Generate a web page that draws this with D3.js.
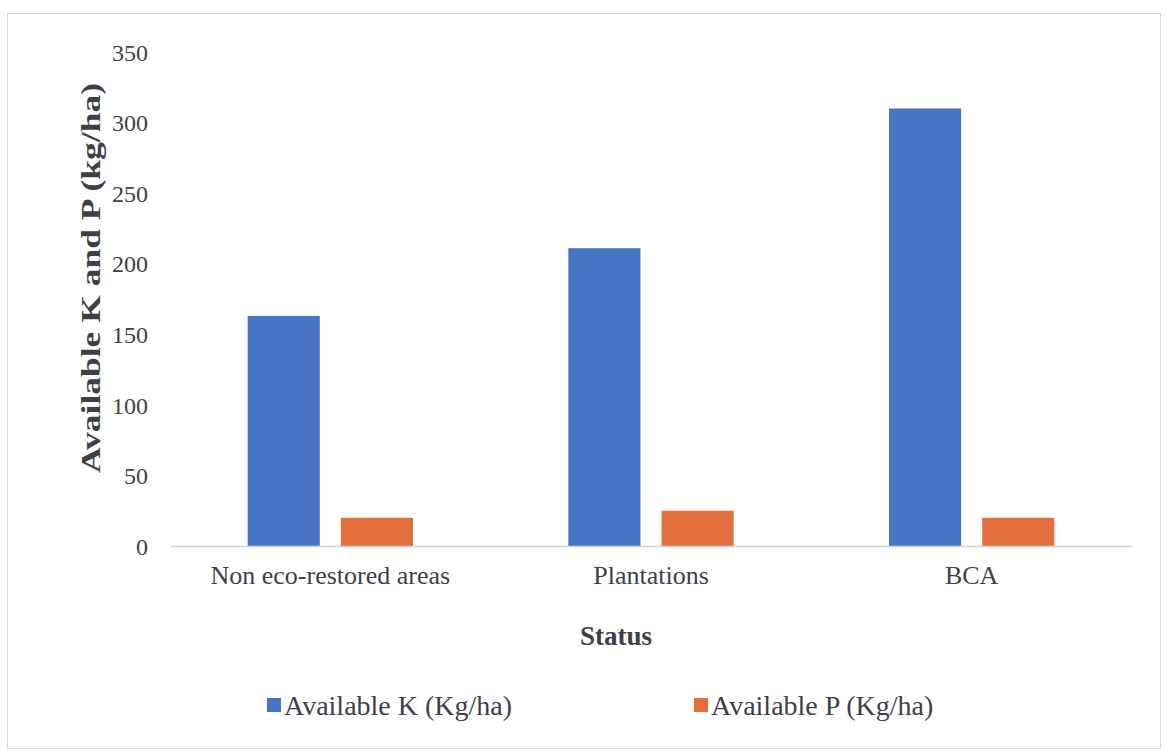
<!DOCTYPE html>
<html>
<head>
<meta charset="utf-8">
<script src="https://cdn.jsdelivr.net/npm/d3@7"></script>
<style>
  html, body { margin: 0; padding: 0; background: #ffffff; }
  svg { display: block; }
  text { font-family: "Liberation Serif", "Times New Roman", serif; fill: #3f3f48; }
</style>
</head>
<body>
<svg id="chart" width="1165" height="751"></svg>
<script>
// Soil nutrient availability by restoration status
const categories = ["Non eco-restored areas", "Plantations", "BCA"];
const seriesNames = ["Available K (Kg/ha)", "Available P (Kg/ha)"];
const availableK = [163, 211, 310];
const availableP = [20, 25, 20];
const yTicks = [0, 50, 100, 150, 200, 250, 300, 350];
const colors = ["#4874c6", "#e36f3c"];

const svg = d3.select("#chart");

// outer chart frame
svg.append("rect")
  .attr("x", 7.5).attr("y", 13.5)
  .attr("width", 1153).attr("height", 735)
  .attr("fill", "#ffffff")
  .attr("stroke", "#d9d9d9")
  .attr("stroke-width", 1);

const plot = { left: 170, right: 1132, top: 52, bottom: 546 };

const y = d3.scaleLinear().domain([0, 350]).range([plot.bottom, plot.top]);
const x0 = d3.scaleBand().domain(categories).range([plot.left, plot.right]).padding(0);
const x1 = d3.scaleBand().domain(seriesNames).range([0, x0.bandwidth()])
  .paddingInner(0.226).paddingOuter(0.833);

const rows = categories.map((c, i) => ({
  category: c,
  values: [
    { series: seriesNames[0], value: availableK[i] },
    { series: seriesNames[1], value: availableP[i] }
  ]
}));

// bars
const groups = svg.append("g").selectAll("g")
  .data(rows).join("g")
  .attr("transform", d => `translate(${x0(d.category)},0)`);

groups.selectAll("rect")
  .data(d => d.values).join("rect")
  .attr("x", d => x1(d.series))
  .attr("y", d => y(d.value))
  .attr("width", x1.bandwidth())
  .attr("height", d => y(0) - y(d.value))
  .attr("fill", (d, i) => colors[i]);

// horizontal category axis
const xAxis = svg.append("g")
  .attr("transform", `translate(0,${plot.bottom})`)
  .call(d3.axisBottom(x0).tickSize(0).tickPadding(0));
xAxis.select(".domain").attr("stroke", "#d0d3dc").attr("stroke-width", 1.5);
xAxis.selectAll("text")
  .attr("y", 38).attr("dy", null)
  .style("font-family", "Liberation Serif, serif")
  .style("font-size", "26px")
  .attr("fill", "#3f3f48");

// value axis: labels only
const yAxis = svg.append("g")
  .attr("transform", `translate(${plot.left - 22},0)`)
  .call(d3.axisLeft(y).tickValues(yTicks).tickSize(0).tickPadding(0));
yAxis.select(".domain").remove();
yAxis.selectAll("text")
  .attr("dy", "0.34em")
  .style("font-family", "Liberation Serif, serif")
  .style("font-size", "24px")
  .attr("fill", "#3f3f48");

// axis titles
svg.append("text")
  .attr("transform", "translate(100,278) rotate(-90)")
  .attr("text-anchor", "middle")
  .attr("font-size", 28)
  .attr("font-weight", "bold")
  .attr("textLength", 390)
  .attr("lengthAdjust", "spacingAndGlyphs")
  .text("Available K and P (kg/ha)");

svg.append("text")
  .attr("x", 616).attr("y", 645)
  .attr("text-anchor", "middle")
  .attr("font-size", 27)
  .attr("font-weight", "bold")
  .text("Status");

// legend
const legendPos = [267, 694];
const legend = svg.append("g").selectAll("g")
  .data(seriesNames).join("g")
  .attr("transform", (d, i) => `translate(${legendPos[i]},698)`);
legend.append("rect")
  .attr("width", 14).attr("height", 14)
  .attr("fill", (d, i) => colors[i]);
legend.append("text")
  .attr("x", 17).attr("y", 17)
  .attr("font-size", 28)
  .text(d => d);
</script>
</body>
</html>
